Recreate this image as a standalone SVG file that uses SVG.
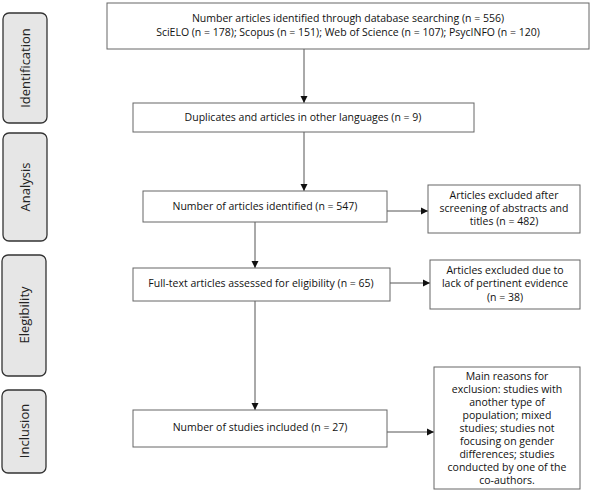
<svg xmlns="http://www.w3.org/2000/svg" width="591" height="500" viewBox="0 0 591 500">
<style>
text{font-family:"Open Sans","Noto Sans",sans-serif;font-size:10.5px;fill:#111;text-anchor:middle}
.box{fill:#fff;stroke:#666;stroke-width:1}
.side{fill:#e6e6e6;stroke:#333;stroke-width:1.3}
.st{font-size:13px;fill:#222}
.ln{stroke:#555;stroke-width:1;fill:none}
</style>
<defs>
<marker id="ah" markerWidth="8" markerHeight="8" refX="7" refY="4" orient="auto" markerUnits="userSpaceOnUse">
<path d="M0,0.5 L7,4 L0,7.5 Z" fill="#111"/>
</marker>
</defs>
<rect width="591" height="500" fill="#fff"/>
<g id="side-identification"><rect class="side" x="3" y="13" width="44" height="110" rx="6"/><text class="st" transform="translate(29.5,68) rotate(-90)">Identification</text></g>
<g id="side-analysis"><rect class="side" x="3" y="133" width="44" height="108" rx="6"/><text class="st" transform="translate(29.5,187) rotate(-90)">Analysis</text></g>
<g id="side-elegibility"><rect class="side" x="2" y="255" width="44" height="121" rx="6"/><text class="st" transform="translate(28.5,315) rotate(-90)">Elegibility</text></g>
<g id="side-inclusion"><rect class="side" x="2" y="390" width="44" height="83" rx="6"/><text class="st" transform="translate(28.5,431) rotate(-90)">Inclusion</text></g>
<g id="connectors">
<line class="ln" x1="304" y1="49" x2="304" y2="103" marker-end="url(#ah)"/>
<line class="ln" x1="304" y1="132" x2="304" y2="191" marker-end="url(#ah)"/>
<line class="ln" x1="387" y1="211" x2="428" y2="211" marker-end="url(#ah)"/>
<line class="ln" x1="255" y1="222" x2="255" y2="268" marker-end="url(#ah)"/>
<line class="ln" x1="390" y1="283" x2="430" y2="283" marker-end="url(#ah)"/>
<line class="ln" x1="255" y1="301" x2="255" y2="410" marker-end="url(#ah)"/>
<line class="ln" x1="387" y1="432" x2="434" y2="432" marker-end="url(#ah)"/>
</g>
<g id="box-search"><rect class="box" x="107" y="3" width="482" height="46"/><text x="348" y="22">Number articles identified through database searching (n = 556)</text><text x="348" y="36">SciELO (n = 178); Scopus (n = 151); Web of Science (n = 107); PsycINFO (n = 120)</text></g>
<g id="box-duplicates"><rect class="box" x="133" y="103" width="341" height="29"/><text x="303" y="121">Duplicates and articles in other languages (n = 9)</text></g>
<g id="box-identified"><rect class="box" x="143" y="191" width="244" height="31"/><text x="265" y="210">Number of articles identified (n = 547)</text></g>
<g id="box-excluded-abstracts"><rect class="box" x="428" y="185" width="152" height="48"/><text x="504" y="199">Articles excluded after</text><text x="504" y="212">screening of abstracts and</text><text x="504" y="225">titles (n = 482)</text></g>
<g id="box-fulltext"><rect class="box" x="133" y="268" width="257" height="33"/><text x="261" y="287">Full-text articles assessed for eligibility (n = 65)</text></g>
<g id="box-excluded-evidence"><rect class="box" x="430" y="260" width="150" height="49"/><text x="505" y="274">Articles excluded due to</text><text x="505" y="287">lack of pertinent evidence</text><text x="505" y="301">(n = 38)</text></g>
<g id="box-included"><rect class="box" x="133" y="410" width="254" height="37"/><text x="260" y="431">Number of studies included (n = 27)</text></g>
<g id="box-reasons"><rect class="box" x="434" y="367" width="146" height="122"/>
<text x="507" y="380">Main reasons for</text>
<text x="507" y="393">exclusion: studies with</text>
<text x="507" y="406">another type of</text>
<text x="507" y="419">population; mixed</text>
<text x="507" y="432">studies; studies not</text>
<text x="507" y="445">focusing on gender</text>
<text x="507" y="458">differences; studies</text>
<text x="507" y="471">conducted by one of the</text>
<text x="507" y="484">co-authors.</text></g>
</svg>
